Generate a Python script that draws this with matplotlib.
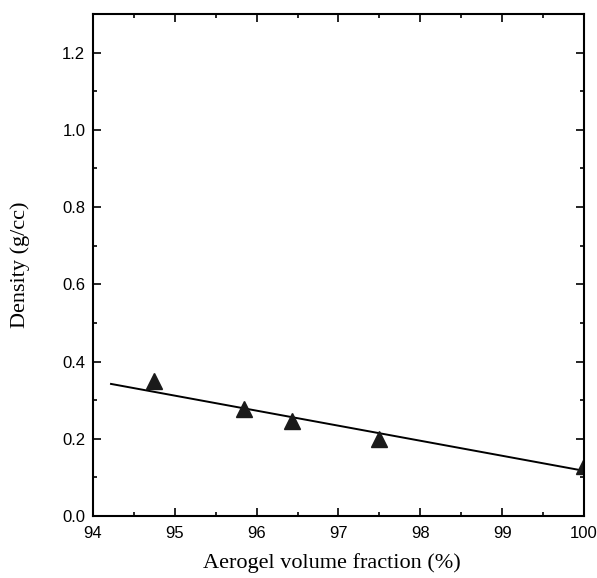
import numpy as np
import matplotlib.pyplot as plt
from matplotlib.ticker import MultipleLocator

# aerogel volume fraction (%) and density (g/cc)
frac = [94.75, 95.84, 96.43, 97.5, 100.0]
dens = [0.350, 0.277, 0.247, 0.200, 0.130]

fit_frac = [94.22, 100.0]
fit_dens = [0.342, 0.117]

fig = plt.figure(figsize=(5.97, 5.78), dpi=100)
ax = fig.add_axes([0.1558, 0.1073, 0.8224, 0.8685])

ax.plot(fit_frac, fit_dens, color='black', lw=1.4)
ax.plot(frac, dens, ls='none', marker='^', ms=12, color='#1a1a1a')

ax.set_xlim(94, 100)
ax.set_ylim(0, 1.3)
ax.xaxis.set_major_locator(MultipleLocator(1))
ax.xaxis.set_minor_locator(MultipleLocator(0.5))
ax.yaxis.set_major_locator(MultipleLocator(0.2))
ax.yaxis.set_minor_locator(MultipleLocator(0.1))
ax.yaxis.set_major_formatter(plt.FuncFormatter(lambda v, pos: '%.1f' % v))

ax.tick_params(which='both', direction='in', top=True, right=True,
               labelsize=12, width=1.2)
ax.tick_params(which='major', length=6)
ax.tick_params(which='minor', length=3)
ax.tick_params(axis='x', which='major', pad=7)
ax.tick_params(axis='y', which='major', pad=5.5)
for lab in ax.get_xticklabels() + ax.get_yticklabels():
    lab.set_fontfamily('Liberation Sans')
for s in ax.spines.values():
    s.set_linewidth(1.5)

ax.set_xlabel('Aerogel volume fraction (%)', family='Liberation Serif',
              fontsize=16)
ax.xaxis.set_label_coords(0.487, -0.073)
ax.set_ylabel('Density (g/cc)', family='Liberation Serif',
              fontsize=16, labelpad=23)

fig.savefig('out.png', dpi=100)
